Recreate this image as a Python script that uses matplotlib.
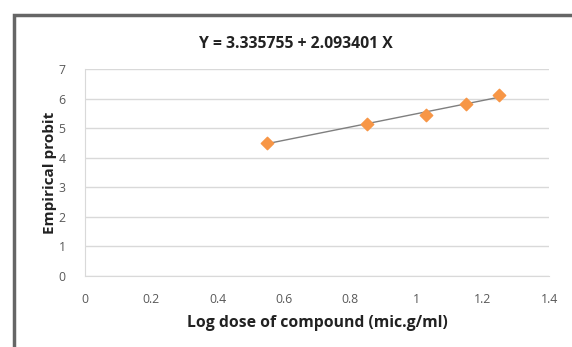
import numpy as np
import matplotlib.pyplot as plt
from matplotlib.patches import Rectangle

# Data
log_dose = [0.55, 0.85, 1.03, 1.15, 1.25]
probit = [4.51, 5.14, 5.46, 5.83, 6.11]
title_text = "Y = 3.335755 + 2.093401 X"

plt.rcParams["font.family"] = ["Open Sans", "DejaVu Sans"]

fig = plt.figure(figsize=(5.72, 3.47), dpi=100)
ax = fig.add_axes([0.1486, 0.2046, 0.8114, 0.5966])

# outer frame (cropped at right / bottom)
fig.patches.append(Rectangle((13.5 / 572, -0.05), 1.2, 1 - 14.5 / 347 + 0.05,
                             transform=fig.transFigure, fill=False,
                             edgecolor="#666666", linewidth=2.5))

# trend line
slope, intercept = np.polyfit(log_dose, probit, 1)
xs = np.array([min(log_dose), max(log_dose)])
ax.plot(xs, intercept + slope * xs, color="#7f7f7f", linewidth=1.0, zorder=2)

ax.scatter(log_dose, probit, marker="D", s=40, color="#F79646",
           edgecolors="#F79646", zorder=3)

ax.set_xlim(0, 1.4)
ax.set_ylim(0, 7)
ax.set_xticks(np.arange(0, 1.41, 0.2))
ax.set_xticklabels(["0", "0.2", "0.4", "0.6", "0.8", "1", "1.2", "1.4"])
ax.set_yticks(range(0, 8))
ax.grid(axis="y", color="#d9d9d9", linewidth=1.0)
ax.set_axisbelow(True)
for s in ["top", "right"]:
    ax.spines[s].set_visible(False)
ax.spines["bottom"].set_color("#d9d9d9")
ax.spines["left"].set_color("#d9d9d9")
ax.tick_params(length=0, labelsize=8.8, labelcolor="#595959")
ax.tick_params(axis="x", pad=12)
ax.tick_params(axis="y", pad=14)

ax.set_title(title_text, fontsize=11.3, fontweight="bold", pad=15,
             color="#222222", x=0.455)
ax.set_xlabel("Log dose of compound (mic.g/ml)", fontsize=11.3, fontweight="bold",
              color="#222222", labelpad=7)
ax.set_ylabel("Empirical probit", fontsize=11, fontweight="bold",
              color="#222222", labelpad=1)

fig.savefig("out.png", dpi=100)
